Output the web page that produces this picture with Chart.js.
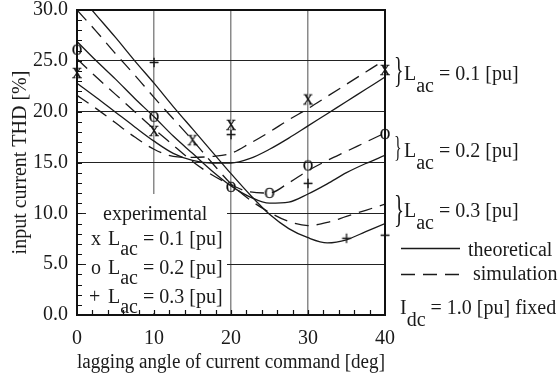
<!DOCTYPE html>
<html lang="en">
<head>
<meta charset="UTF-8">
<title>Input current THD vs lagging angle</title>
<script src="https://cdn.jsdelivr.net/npm/chart.js"></script>
<style>
  html, body { margin: 0; padding: 0; background: #fff; }
  #wrap { width: 559px; height: 382px; }
</style>
</head>
<body>
<div id="wrap"><canvas id="thdChart" width="559" height="382"></canvas></div>
<script>
const serif = "'Liberation Serif', 'DejaVu Serif', 'Times New Roman', serif";
const ink = '#1a1a1a';

// lagging angle samples [deg] shared by the theoretical and simulated curves
const curveAngles = [0, 2.5, 5, 7.5, 10, 12.5, 15, 17.5, 20, 22.5, 25, 27.5, 30, 32.5, 35, 37.5, 40];

// input current THD [%]
const theoryLac01 = [22.8, 21.4, 19.95, 18.5, 17.1, 15.9, 15.2, 14.95, 14.95, 15.4, 16.3, 17.4, 18.6, 19.8, 21.0, 22.2, 23.4];
const simLac01    = [21.6, 20.3, 18.9, 17.5, 16.3, 15.6, 15.5, 15.6, 15.9, 16.9, 18.0, 19.2, 20.3, 21.5, 22.7, 23.9, 25.1];
const theoryLac02 = [26.9, 25.0, 23.2, 21.3, 19.5, 17.6, 15.9, 14.2, 12.7, 11.6, 11.0, 11.1, 11.9, 12.9, 14.0, 14.9, 15.7];
const simLac02    = [25.2, 23.4, 21.7, 20.0, 18.3, 16.7, 15.1, 13.8, 12.8, 12.1, 12.0, 13.0, 14.2, 15.2, 16.1, 17.0, 17.9];
const theoryLac03 = [31.7, 29.5, 27.3, 25.0, 22.8, 20.5, 18.3, 16.1, 13.9, 11.8, 9.9, 8.5, 7.6, 7.1, 7.4, 8.2, 9.0];
const simLac03    = [30.0, 27.9, 25.7, 23.6, 21.4, 19.3, 17.2, 15.0, 12.9, 11.3, 10.1, 9.2, 8.8, 9.1, 9.7, 10.3, 10.9];

// experimental points
const expAngleLac01 = [0, 10, 15, 20, 30, 40];
const expThdLac01   = [23.8, 18.1, 17.2, 18.7, 21.2, 24.1];
const expAngleLac02 = [0, 10, 20, 25, 30, 40];
const expThdLac02   = [26.1, 19.5, 12.6, 12.0, 14.7, 17.8];
const expAngleLac03 = [10, 20, 30, 35, 40];
const expThdLac03   = [24.7, 17.6, 12.8, 7.4, 7.7];

// axes
const angleRange = [0, 40];
const angleStep = 10;
const thdRange = [0, 30];
const thdStep = 5;

function pairs(xs, ys) {
  return xs.map((x, i) => ({ x: x, y: ys[i] }));
}

// small serif glyphs used as point markers
function glyph(ch, size, lift) {
  const c = document.createElement('canvas');
  c.width = 22; c.height = 22;
  const g = c.getContext('2d');
  g.font = size + 'px ' + serif;
  g.fillStyle = '#111';
  g.strokeStyle = '#111';
  g.lineWidth = 0.35;
  g.textAlign = 'center';
  g.textBaseline = 'alphabetic';
  g.fillText(ch, 11, 11 + size * lift);
  g.strokeText(ch, 11, 11 + size * lift);
  return c;
}

function curve(values, dashed) {
  return {
    data: pairs(curveAngles, values),
    showLine: true,
    borderColor: ink,
    borderWidth: 1.3,
    borderDash: dashed ? [14, 8] : [],
    pointRadius: 0,
    cubicInterpolationMode: 'monotone',
    clip: 0
  };
}

function marks(xs, ys, style) {
  return {
    data: pairs(xs, ys),
    showLine: false,
    pointStyle: style,
    pointRadius: 5,
    clip: false
  };
}

// text with a subscript, returns x after the last piece
function subText(ctx, x, y, main, sub, rest, drop) {
  ctx.fillText(main, x, y);
  x += ctx.measureText(main).width;
  ctx.fillText(sub, x, y + drop);
  x += ctx.measureText(sub).width;
  ctx.fillText(rest, x, y);
  return x + ctx.measureText(rest).width;
}

function brace(ctx, x, yMid, h) {
  ctx.save();
  ctx.font = (h * 1.12) + 'px ' + serif;
  ctx.textBaseline = 'middle';
  ctx.translate(x, yMid);
  ctx.scale(0.55, 1);
  ctx.fillText('}', 0, 0);
  ctx.restore();
}

const decorations = {
  id: 'decorations',
  beforeDatasetsDraw(chart) {
    const { ctx, chartArea: a } = chart;
    // white panel behind the experimental legend
    ctx.save();
    ctx.fillStyle = '#fff';
    ctx.fillRect(a.left + 9, 194, 141, a.bottom - 196);
    ctx.restore();
  },
  afterDraw(chart) {
    const { ctx, chartArea: a } = chart;
    const xs = chart.scales.x, ys = chart.scales.y;
    ctx.save();

    // frame
    ctx.strokeStyle = '#111';
    ctx.lineWidth = 2;
    ctx.strokeRect(a.left, a.top, a.right - a.left, a.bottom - a.top);

    // inward minor ticks
    ctx.lineWidth = 1.2;
    ctx.beginPath();
    for (let v = thdRange[0] + 1; v < thdRange[1]; v++) {
      const py = Math.round(ys.getPixelForValue(v)) + 0.5;
      ctx.moveTo(a.left, py);
      ctx.lineTo(a.left + 5, py);
    }
    for (let v = angleRange[0] + 2; v < angleRange[1]; v += 2) {
      const px = Math.round(xs.getPixelForValue(v)) + 0.5;
      ctx.moveTo(px, a.bottom);
      ctx.lineTo(px, a.bottom - 5);
    }
    ctx.stroke();

    ctx.fillStyle = ink;
    ctx.font = '20px ' + serif;
    ctx.textBaseline = 'alphabetic';
    ctx.textAlign = 'left';

    // experimental legend
    ctx.fillText('experimental', 103, 220);
    ctx.fillText('x', 91, 245);
    subText(ctx, 108, 245, 'L', 'ac', ' = 0.1 [pu]', 10);
    ctx.fillText('o', 91, 274);
    subText(ctx, 108, 274, 'L', 'ac', ' = 0.2 [pu]', 10);
    ctx.fillText('+', 89, 303);
    subText(ctx, 108, 303, 'L', 'ac', ' = 0.3 [pu]', 10);

    // group labels on the right
    brace(ctx, 394, 73, 32);
    subText(ctx, 404, 80, 'L', 'ac', ' = 0.1 [pu]', 12);
    brace(ctx, 394, 148, 26);
    subText(ctx, 404, 157, 'L', 'ac', ' = 0.2 [pu]', 12);
    brace(ctx, 394, 212, 34);
    subText(ctx, 404, 217, 'L', 'ac', ' = 0.3 [pu]', 12);

    // line style key
    ctx.strokeStyle = ink;
    ctx.lineWidth = 1.3;
    ctx.beginPath();
    ctx.moveTo(401, 248.5);
    ctx.lineTo(460, 248.5);
    ctx.stroke();
    ctx.fillText('theoretical', 468, 256);
    ctx.setLineDash([14, 8]);
    ctx.beginPath();
    ctx.moveTo(401, 274.5);
    ctx.lineTo(460, 274.5);
    ctx.stroke();
    ctx.setLineDash([]);
    ctx.fillText('simulation', 473, 280);

    subText(ctx, 400, 314, 'I', 'dc', ' = 1.0 [pu] fixed', 12);
    ctx.restore();
  }
};

Chart.defaults.font.family = serif;
Chart.defaults.font.size = 20;
Chart.defaults.color = ink;

new Chart(document.getElementById('thdChart'), {
  type: 'scatter',
  data: {
    datasets: [
      curve(theoryLac01, false),
      curve(simLac01, true),
      curve(theoryLac02, false),
      curve(simLac02, true),
      curve(theoryLac03, false),
      curve(simLac03, true),
      marks(expAngleLac01, expThdLac01, glyph('X', 14, 0.33)),
      marks(expAngleLac02, expThdLac02, glyph('O', 14, 0.33)),
      marks(expAngleLac03, expThdLac03, glyph('+', 18, 0.25))
    ]
  },
  options: {
    responsive: false,
    animation: false,
    events: [],
    layout: { padding: { left: 0, top: 10, right: 174, bottom: 0 } },
    plugins: {
      legend: { display: false },
      tooltip: { enabled: false }
    },
    scales: {
      x: {
        type: 'linear',
        min: angleRange[0],
        max: angleRange[1],
        ticks: { stepSize: angleStep, padding: 12, color: ink },
        grid: { color: '#8a8a8a', lineWidth: 1.5, drawTicks: false },
        border: { display: false },
        title: {
          display: true,
          text: 'lagging angle of current command [deg]',
          color: ink,
          padding: { top: 0, bottom: 7 }
        },
        afterFit(scale) {
          scale.height = 67;
          scale.paddingLeft = 0; scale.paddingRight = 0;
          scale.paddingTop = 0; scale.paddingBottom = 0;
        }
      },
      y: {
        type: 'linear',
        min: thdRange[0],
        max: thdRange[1],
        ticks: { stepSize: thdStep, padding: 9, color: ink, callback: v => v.toFixed(1) },
        grid: { color: '#222', lineWidth: 1, drawTicks: false },
        border: { display: false },
        title: {
          display: true,
          text: 'input current THD [%]',
          color: ink,
          padding: { top: 9, bottom: 0 }
        },
        afterFit(scale) {
          scale.width = 77;
          scale.paddingLeft = 0; scale.paddingRight = 0;
          scale.paddingTop = 0; scale.paddingBottom = 0;
        }
      }
    }
  },
  plugins: [decorations]
});
</script>
</body>
</html>
